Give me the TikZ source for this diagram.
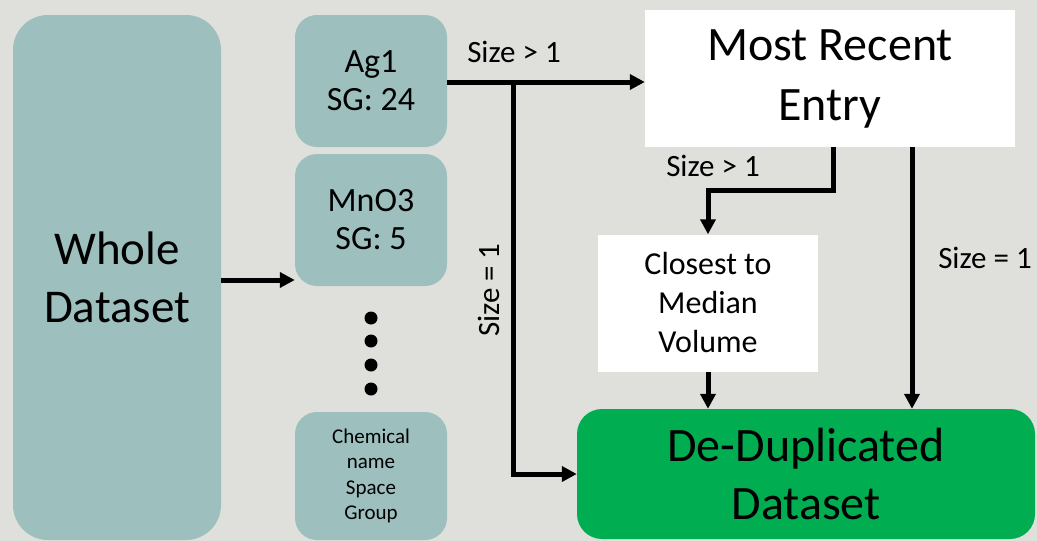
\documentclass[tikz,border=0pt]{standalone}
\usepackage{fontspec}
\setmainfont{Carlito}
\usepackage{xcolor}
\usepackage{tikz}
\usetikzlibrary{arrows.meta,positioning}
\definecolor{bgcol}{HTML}{DFE0DB}
\definecolor{tealbox}{HTML}{9DC0BF}
\definecolor{dedupgreen}{HTML}{00AD50}
\tikzset{
  groupbox/.style={fill=tealbox,rounded corners=22pt,minimum width=152pt,minimum height=132pt,align=center,inner sep=0pt},
  whitebox/.style={fill=white,align=center,inner sep=0pt},
  flow/.style={line width=5pt,-{Triangle[length=15pt,width=15pt]}},
  sizelabel/.style={font=\fontsize{31}{36}\selectfont},
  chemdot/.style={circle,fill=black,inner sep=0pt,minimum size=13pt}
}

\begin{document}
\begin{tikzpicture}[x=1pt,y=-1pt]
\useasboundingbox (0,0) rectangle (1037,541);
\fill[bgcol] (0,0) rectangle (1037,541);
% boxes
\node[groupbox,minimum width=208pt,minimum height=525pt,rounded corners=35pt,font=\fontsize{47}{58}\selectfont](whole) at (117,277.5) {Whole\\Dataset};
\node[groupbox,font=\fontsize{34}{38}\selectfont](ag) at (371,81) {Ag1\\SG: 24};
\node[groupbox,font=\fontsize{34}{38}\selectfont](mno) at (371,220) {MnO3\\SG: 5};
\node[groupbox,minimum height=128pt,font=\fontsize{21}{25.5}\selectfont](chem) at (371,476) {Chemical\\name\\Space\\Group};
\foreach \y/\n in {318/1,341/2,365/3,389/4}
  \node[chemdot](dot\n) at (371,\y) {};
\node[whitebox,minimum width=370pt,minimum height=137pt,font=\fontsize{48}{60}\selectfont](recent) at (830,78.5) {Most Recent\\Entry};
\node[whitebox,minimum width=220pt,minimum height=137pt,font=\fontsize{32}{39}\selectfont](closest) at (708,303) {Closest to\\Median\\Volume};
\node[fill=dedupgreen,rounded corners=25pt,minimum width=458pt,minimum height=130pt,align=center,inner sep=0pt,font=\fontsize{48}{58}\selectfont](dedup) at (806,474) {De-Duplicated\\Dataset};
% connectors
\coordinate (split) at (513,82);
\coordinate (bend) at (833,190);
\draw[flow] (whole.east|-0,280) -- (mno.west|-0,280);
\draw[flow] (ag.east|-split) -- (recent.west|-split);
\draw[flow] (split) |- (dedup.west);
\draw[flow] (recent.south-|bend) -- (bend) -| (closest.north);
\draw[flow] (closest.south) -- (closest.south|-dedup.north);
\draw[flow] (recent.south-|912,0) -- (dedup.north-|912,0);
% labels
\node[sizelabel](lbla) at (514,52) {Size > 1};
\node[sizelabel,rotate=90](lblb) at (489,290) {Size = 1};
\node[sizelabel](lblc) at (713,166) {Size > 1};
\node[sizelabel](lbld) at (985,258) {Size = 1};
\end{tikzpicture}
\end{document}
